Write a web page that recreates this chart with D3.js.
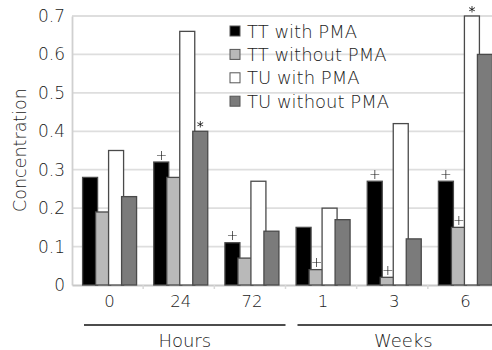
<!DOCTYPE html>
<html>
<head>
<meta charset="utf-8">
<script src="https://cdn.jsdelivr.net/npm/d3@7"></script>
<style>
  body { margin: 0; background: #fff; }
  text { font-family: "DejaVu Sans", sans-serif; font-weight: 200; fill: #222; }
</style>
</head>
<body>
<div id="chart"></div>
<script>
const categories = ['0', '24', '72', '1', '3', '6'];
const seriesNames = ['TT with PMA', 'TT without PMA', 'TU with PMA', 'TU without PMA'];
const ttWith = [0.28, 0.32, 0.11, 0.15, 0.27, 0.27];
const ttWithout = [0.19, 0.28, 0.07, 0.04, 0.02, 0.15];
const tuWith = [0.35, 0.66, 0.27, 0.20, 0.42, 0.70];
const tuWithout = [0.23, 0.40, 0.14, 0.17, 0.12, 0.60];
const yTicks = [0, 0.1, 0.2, 0.3, 0.4, 0.5, 0.6, 0.7];
// significance marks: [category index, series index, symbol]
const marks = [[1, 0, '+'], [1, 3, '*'], [2, 0, '+'], [3, 1, '+'], [4, 0, '+'], [4, 1, '+'], [5, 0, '+'], [5, 1, '+'], [5, 2, '*']];
const periods = [{ label: 'Hours', from: '0', to: '72' }, { label: 'Weeks', from: '1', to: '6' }];

const colors = ['#000000', '#b9b9b9', '#ffffff', '#7b7b7b'];
const values = [ttWith, ttWithout, tuWith, tuWithout];

const width = 492, height = 350;
const svg = d3.select('#chart').append('svg')
  .attr('width', width)
  .attr('height', height);

// plain offscreen filter -> grayscale antialiasing for the small marks
const flt = svg.append('defs').append('filter').attr('id', 'gray')
  .attr('x', '-50%').attr('y', '-50%').attr('width', '200%').attr('height', '200%');
flt.append('feOffset').attr('dx', 0).attr('dy', 0);

const x = d3.scaleBand().domain(categories).range([72, 499]);
const y = d3.scaleLinear().domain([0, 0.7]).range([285, 16]);
const inner = d3.scalePoint().domain(seriesNames).range([0, 39]);
const barW = 15;
const groupOff = (x.bandwidth() - 54) / 2 + 2;

// grid
svg.append('g')
  .selectAll('line')
  .data(yTicks.slice(1))
  .join('line')
  .attr('x1', 72).attr('x2', width)
  .attr('y1', d => y(d)).attr('y2', d => y(d))
  .attr('stroke', '#dedede')
  .attr('stroke-width', 1.8);

// y axis
const yAxis = svg.append('g')
  .attr('transform', 'translate(72,0)')
  .call(d3.axisLeft(y).tickValues(yTicks).tickFormat(d => d === 0 ? '0' : d3.format('.1f')(d)).tickSize(0).tickPadding(7));
yAxis.select('.domain').attr('stroke', '#d0d0d0').attr('stroke-width', 1.8);
yAxis.selectAll('text').style('font-size', '17px').attr('fill', '#222');

// x axis
const xAxis = svg.append('g')
  .attr('transform', 'translate(0,285)')
  .call(d3.axisBottom(x).tickSize(0).tickPadding(10));
xAxis.select('.domain').attr('stroke', '#c8c8c8').attr('stroke-width', 1.8);
xAxis.selectAll('text').style('font-size', '16.5px').attr('fill', '#222').attr('dx', 2);
xAxis.selectAll('.sep')
  .data(categories.slice(1))
  .join('line')
  .attr('class', 'sep')
  .attr('x1', d => x(d)).attr('x2', d => x(d))
  .attr('y1', 0).attr('y2', 4)
  .attr('stroke', '#d8d8d8')
  .attr('stroke-width', 1.5);

// bars
seriesNames.forEach((s, si) => {
  svg.append('g')
    .selectAll('rect')
    .data(categories)
    .join('rect')
    .attr('x', d => x(d) + groupOff + inner(s))
    .attr('y', (d, i) => y(values[si][i]))
    .attr('width', barW)
    .attr('height', (d, i) => y(0) - y(values[si][i]))
    .attr('fill', colors[si])
    .attr('stroke', '#4a4a4a')
    .attr('stroke-width', 1.3);
});

// marks
svg.append('g')
  .attr('filter', 'url(#gray)')
  .selectAll('text')
  .data(marks)
  .join('text')
  .attr('x', d => x(categories[d[0]]) + groupOff + inner(seriesNames[d[1]]) + barW / 2)
  .attr('y', d => y(values[d[1]][d[0]]) - (d[2] === '*' ? 0.5 : 2.5))
  .attr('text-anchor', 'middle')
  .style('font-size', '14px')
  .style('font-weight', d => d[2] === '*' ? 400 : 300)
  .style('fill', '#111')
  .text(d => d[2]);

// legend
const legend = svg.append('g').attr('transform', 'translate(230,31)');
seriesNames.forEach((s, i) => {
  const row = legend.append('g').attr('transform', `translate(0,${i * 23.4})`);
  row.append('rect')
    .attr('x', 0).attr('y', -5)
    .attr('width', 10).attr('height', 10)
    .attr('fill', colors[i])
    .attr('stroke', '#555')
    .attr('stroke-width', 1);
  row.append('text')
    .attr('x', 17).attr('y', 6.5)
    .style('font-size', '18px')
    .text(s);
});

// y label
svg.append('text')
  .attr('transform', 'translate(26,150) rotate(-90)')
  .attr('text-anchor', 'middle')
  .style('font-size', '17.5px')
  .text('Concentration');

// period brackets
periods.forEach((p, i) => {
  const x1 = x(p.from) + 12;
  const x2 = x(p.to) + x.bandwidth() + (i === 0 ? 0 : 10);
  svg.append('line')
    .attr('x1', x1).attr('x2', x2)
    .attr('y1', 325).attr('y2', 325)
    .attr('stroke', '#111')
    .attr('stroke-width', 1.5);
  svg.append('text')
    .attr('x', (x1 + x2) / 2)
    .attr('y', 347)
    .attr('text-anchor', 'middle')
    .style('font-size', '18px')
    .text(p.label);
});
</script>
</body>
</html>
